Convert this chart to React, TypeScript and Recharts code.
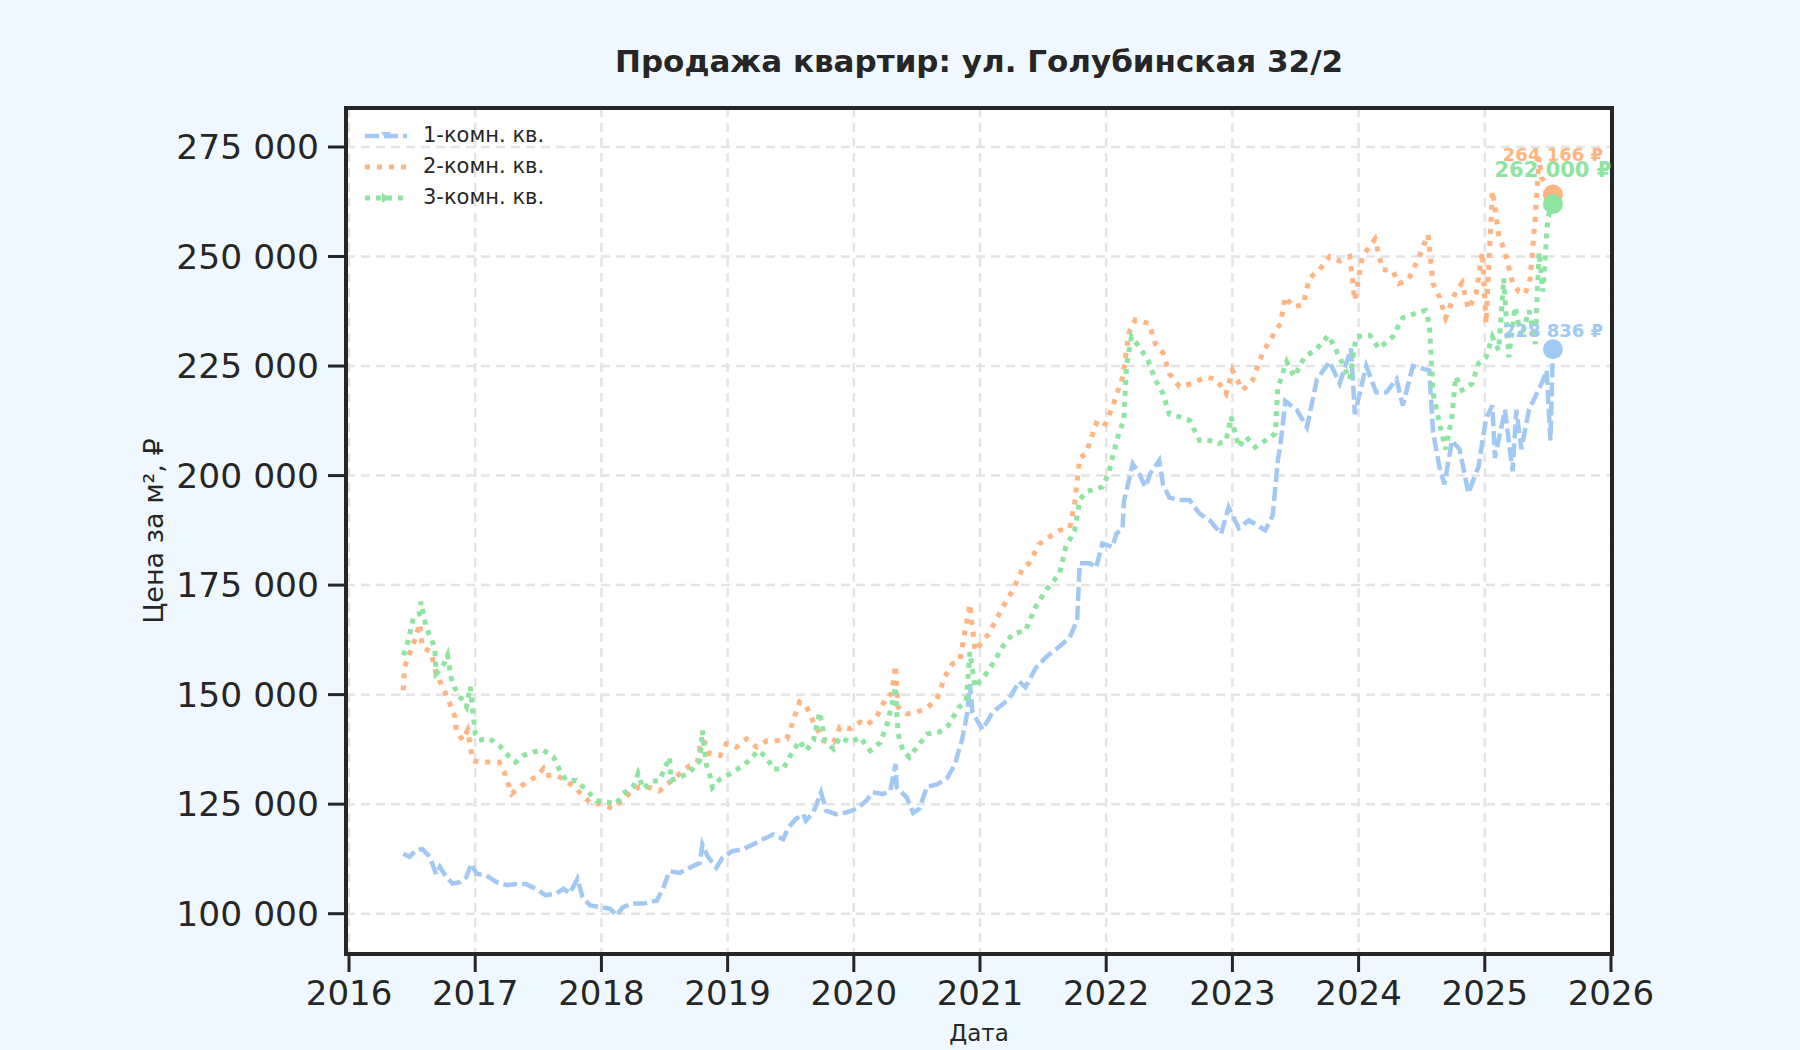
import React from "react";
import { LineChart, Line, XAxis, YAxis, CartesianGrid, ReferenceDot, ReferenceArea } from "recharts";

const BLUE = "#a1c9f4";
const ORANGE = "#ffb482";
const GREEN = "#8de5a1";
const INK = "#262626";
const FONT = "'DejaVu Sans', Verdana, sans-serif";

const title = "Продажа квартир: ул. Голубинская 32/2";
const yearTicks = [2016, 2017, 2018, 2019, 2020, 2021, 2022, 2023, 2024, 2025, 2026];
// цена за м², тыс. ₽
const priceTicks = [100, 125, 150, 175, 200, 225, 250, 275];
const xDomain = [2015.976, 2026.008];
const yDomain = [90.8, 283.9];

const room1Dates = [
  2016.43, 2016.48, 2016.53, 2016.58, 2016.64, 2016.69, 2016.72, 2016.77, 2016.82, 2016.88, 2016.93, 2016.97,
  2017.01, 2017.09, 2017.17, 2017.25, 2017.33, 2017.4, 2017.48, 2017.56, 2017.64, 2017.7, 2017.75, 2017.81,
  2017.85, 2017.91, 2017.99, 2018.07, 2018.12, 2018.17, 2018.25, 2018.33, 2018.44, 2018.49, 2018.54, 2018.62,
  2018.7, 2018.78, 2018.8, 2018.84, 2018.91, 2018.96, 2019.04, 2019.12, 2019.2, 2019.28, 2019.36, 2019.44,
  2019.48, 2019.54, 2019.6, 2019.62, 2019.68, 2019.74, 2019.78, 2019.86, 2019.94, 2020.02, 2020.1, 2020.15,
  2020.23, 2020.29, 2020.33, 2020.34, 2020.42, 2020.47, 2020.52, 2020.58, 2020.66, 2020.74, 2020.8, 2020.86,
  2020.9, 2020.92, 2020.94, 2021.02, 2021.1, 2021.23, 2021.31, 2021.36, 2021.44, 2021.52, 2021.63, 2021.71,
  2021.77, 2021.79, 2021.87, 2021.92, 2021.97, 2022.05, 2022.08, 2022.13, 2022.14, 2022.21, 2022.26, 2022.31,
  2022.35, 2022.42, 2022.45, 2022.5, 2022.58, 2022.66, 2022.74, 2022.82, 2022.91, 2022.97, 2023.05, 2023.13,
  2023.26, 2023.32, 2023.36, 2023.38, 2023.42, 2023.51, 2023.59, 2023.67, 2023.77, 2023.85, 2023.94, 2023.97,
  2024.06, 2024.14, 2024.22, 2024.3, 2024.35, 2024.43, 2024.56, 2024.59, 2024.64, 2024.68, 2024.74, 2024.8,
  2024.87, 2024.95, 2025.01, 2025.06, 2025.08, 2025.16, 2025.22, 2025.25, 2025.29, 2025.35, 2025.4, 2025.45,
  2025.49, 2025.52, 2025.54,
];
const room1Prices = [
  113.7, 113, 114.5, 114.8, 113, 109, 110.7, 108.4, 106.9, 107.2, 108.4, 111.4,
  109.1, 108.7, 107.2, 106.5, 106.8, 106.8, 105.7, 104.2, 104.6, 105.7, 104.6, 108,
  103.8, 101.9, 101.5, 101.1, 99.6, 101.5, 102.3, 102.3, 103, 105.9, 109.7, 109.3,
  110.5, 111.6, 115.8, 113.2, 110.5, 112.8, 114.3, 114.7, 115.8, 117, 118.1, 117,
  119.6, 121.6, 122.7, 121.2, 123.1, 127.7, 123.5, 122.7, 123.1, 123.9, 125.8, 127.7,
  127.3, 128.1, 134.2, 128.8, 126.5, 123, 124, 129, 129.5, 131, 134, 140,
  146, 152.4, 146, 142, 146, 149, 153, 151.7, 156, 158.5, 161, 163,
  167, 180, 180, 179, 184.5, 183.7, 186.7, 188, 194, 202.7, 200.5, 197.4,
  200.5, 203.5, 198, 195, 194.4, 194.4, 191.3, 189.8, 186.7, 192.8, 188, 189.8,
  187.5, 191, 203.5, 207, 217, 215, 211, 222, 226, 221, 229, 214,
  225, 219, 219, 222, 216, 225, 224, 210, 202, 198, 208, 206,
  196, 202, 213, 216, 204, 215, 201, 215, 206, 215, 218, 221,
  224, 208, 228.836,
];

const room2Dates = [
  2016.43, 2016.44, 2016.48, 2016.53, 2016.56, 2016.58, 2016.65, 2016.69, 2016.76, 2016.81, 2016.84, 2016.85,
  2016.9, 2016.94, 2016.98, 2017.03, 2017.11, 2017.19, 2017.23, 2017.26, 2017.29, 2017.35, 2017.43, 2017.48,
  2017.54, 2017.56, 2017.64, 2017.72, 2017.8, 2017.85, 2017.92, 2017.99, 2018.09, 2018.15, 2018.22, 2018.3,
  2018.38, 2018.46, 2018.54, 2018.62, 2018.7, 2018.76, 2018.79, 2018.82, 2018.86, 2018.94, 2018.99, 2019.07,
  2019.15, 2019.23, 2019.31, 2019.39, 2019.47, 2019.52, 2019.57, 2019.62, 2019.68, 2019.76, 2019.84, 2019.89,
  2019.97, 2020.05, 2020.1, 2020.18, 2020.26, 2020.3, 2020.33, 2020.35, 2020.42, 2020.5, 2020.58, 2020.66,
  2020.72, 2020.78, 2020.84, 2020.92, 2020.96, 2021.07, 2021.18, 2021.26, 2021.34, 2021.39, 2021.47, 2021.55,
  2021.63, 2021.71, 2021.75, 2021.79, 2021.84, 2021.92, 2021.98, 2022.05, 2022.13, 2022.18, 2022.23, 2022.34,
  2022.39, 2022.45, 2022.5, 2022.58, 2022.68, 2022.79, 2022.87, 2022.95, 2023.0, 2023.08, 2023.16, 2023.24,
  2023.3, 2023.38, 2023.42, 2023.48, 2023.56, 2023.61, 2023.69, 2023.77, 2023.85, 2023.93, 2023.97, 2024.03,
  2024.13, 2024.19, 2024.27, 2024.32, 2024.4, 2024.48, 2024.55, 2024.59, 2024.64, 2024.69, 2024.77, 2024.82,
  2024.87, 2024.93, 2024.98, 2025.01, 2025.06, 2025.11, 2025.16, 2025.22, 2025.27, 2025.32, 2025.36, 2025.4,
  2025.43, 2025.45, 2025.54,
];
const room2Prices = [
  151, 156.3, 159.4, 163.2, 166.2, 160.9, 159.7, 154.8, 150.6, 147.2, 144.9, 141.9,
  139.6, 141.9, 135, 134.6, 134.6, 134.6, 132.3, 129.7, 127.4, 128.9, 130.4, 131.2,
  133.1, 131.6, 131.6, 130.4, 128.5, 127, 125.1, 125.1, 124, 125.5, 127.4, 129,
  128.8, 128, 130, 131.9, 133.8, 134.6, 139.5, 139.1, 136.5, 136.1, 138.8, 138,
  139.9, 138, 139.5, 139.5, 139.9, 144.1, 148.3, 147.6, 143.7, 139.5, 139.1, 142.6,
  142.2, 143.7, 143, 144.9, 149.5, 150.2, 156.7, 147.2, 145.6, 146, 147, 149,
  154, 157, 157.8, 170.7, 160, 163.9, 170, 173.8, 179, 180, 184.4, 186,
  187.5, 188, 193.6, 204, 205, 211.9, 211, 215.7, 222.5, 232.5, 235.5, 234.7,
  230, 228, 223.3, 220.3, 221, 222.5, 222, 218.7, 224, 219.5, 221.8, 228,
  231, 234.7, 240.8, 238.5, 239, 245, 247, 250, 249, 250, 240, 250,
  254, 247, 246.8, 243.8, 245, 250, 255, 243.8, 240.8, 236, 242, 244,
  238, 241.5, 251, 234.7, 265, 255, 251, 244, 242, 241.5, 245, 259,
  272.6, 268, 264.166,
];

const room3Dates = [
  2016.43, 2016.47, 2016.51, 2016.56, 2016.57, 2016.61, 2016.65, 2016.68, 2016.69, 2016.74, 2016.78, 2016.81,
  2016.84, 2016.88, 2016.93, 2016.96, 2016.98, 2017.0, 2017.03, 2017.11, 2017.19, 2017.27, 2017.32, 2017.38,
  2017.46, 2017.54, 2017.62, 2017.67, 2017.72, 2017.8, 2017.88, 2017.96, 2018.04, 2018.12, 2018.17, 2018.25,
  2018.29, 2018.33, 2018.4, 2018.46, 2018.54, 2018.55, 2018.62, 2018.7, 2018.78, 2018.8, 2018.83, 2018.86,
  2018.88, 2018.94, 2019.02, 2019.1, 2019.17, 2019.24, 2019.31, 2019.36, 2019.44, 2019.49, 2019.57, 2019.62,
  2019.68, 2019.73, 2019.77, 2019.84, 2019.89, 2019.97, 2020.05, 2020.13, 2020.21, 2020.26, 2020.31, 2020.33,
  2020.35, 2020.39, 2020.44, 2020.5, 2020.58, 2020.68, 2020.75, 2020.83, 2020.89, 2020.92, 2020.96, 2021.07,
  2021.18, 2021.26, 2021.36, 2021.44, 2021.52, 2021.63, 2021.68, 2021.75, 2021.79, 2021.84, 2021.97, 2022.02,
  2022.05, 2022.1, 2022.14, 2022.16, 2022.2, 2022.26, 2022.33, 2022.39, 2022.45, 2022.5, 2022.58, 2022.66,
  2022.74, 2022.82, 2022.89, 2022.95, 2022.99, 2023.05, 2023.11, 2023.18, 2023.26, 2023.34, 2023.36, 2023.43,
  2023.49, 2023.57, 2023.67, 2023.76, 2023.85, 2023.93, 2023.98, 2024.09, 2024.16, 2024.27, 2024.35, 2024.45,
  2024.53, 2024.56, 2024.59, 2024.64, 2024.69, 2024.74, 2024.77, 2024.82, 2024.9, 2024.95, 2025.01, 2025.06,
  2025.11, 2025.15, 2025.19, 2025.24, 2025.29, 2025.35, 2025.4, 2025.43, 2025.46, 2025.5, 2025.54,
];
const room3Prices = [
  159, 162.4, 167.7, 168.5, 171.2, 165.4, 162.8, 160.5, 154.8, 156.3, 159, 153.7,
  151.4, 149.5, 147.2, 151.8, 146.4, 141.1, 139.6, 140, 138.4, 135.8, 134.6, 136.1,
  136.9, 137.3, 135.8, 132.7, 130.4, 130.4, 128.2, 125.8, 125.5, 125.1, 127.4, 128.9,
  132, 128.5, 130.2, 130.4, 135.7, 130.4, 131.1, 132.3, 134.9, 141.8, 134.2, 131.5,
  128.8, 130.7, 131.9, 133.4, 134.9, 137.2, 135.7, 133, 133, 135.7, 139.5, 137.2,
  139.5, 146, 139.5, 137.6, 140.3, 139.1, 140.3, 137.2, 139.1, 143, 148.7, 151.8,
  141, 137.2, 135.7, 138, 141, 141.5, 143, 147, 148.6, 159.7, 151.7, 155.5,
  161, 163.9, 164.6, 170, 173.8, 177.6, 183.7, 187.5, 194.4, 196.3, 197.4, 200.5,
  204.3, 209.6, 212.7, 224.8, 231.7, 229.4, 226.4, 221.8, 218.7, 214, 213.4, 212.6,
  208, 208, 207.3, 208, 213.4, 206.5, 208.8, 206.5, 208, 209.6, 220, 226,
  222.6, 227, 229, 232, 227, 222, 231.7, 232, 229, 231.7, 236, 237,
  237.7, 234.7, 218.8, 212, 206, 213.5, 222.6, 219.5, 221, 225.6, 227, 231.7,
  228.6, 245, 227, 238.5, 231.7, 237.7, 230, 251, 242, 259, 262,
];

const series = [
  { name: "1-комн. кв.", color: BLUE, dash: "14 5", width: 4.5, marker: "down", dates: room1Dates, prices: room1Prices, labelSize: 18, labelOffset: 2 },
  { name: "2-комн. кв.", color: ORANGE, dash: "5 7", width: 5, marker: "none", dates: room2Dates, prices: room2Prices, labelSize: 18, labelOffset: 23 },
  { name: "3-комн. кв.", color: GREEN, dash: "5 6", width: 5, marker: "right", dates: room3Dates, prices: room3Prices, labelSize: 21, labelOffset: 17 },
];

const fmt = (n: number) => String(Math.round(n)).replace(/\B(?=(\d{3})+(?!\d))/g, " ");

const axisLine = { stroke: INK, strokeWidth: 4 };

function LegendSample({ color, dash, width, marker }: any) {
  return (
    <svg width={42} height={14} style={{ display: "block" }}>
      <line x1={0} y1={7} x2={42} y2={7} stroke={color} strokeWidth={width} strokeDasharray={dash} />
      {marker === "down" && <polygon points="16,3 26,3 21,10" fill={color} />}
      {marker === "right" && <polygon points="17,2 17,12 25,7" fill={color} />}
    </svg>
  );
}

export default function App() {
  return (
    <div
      style={{
        position: "absolute",
        left: 0,
        top: 0,
        width: 1800,
        height: 1050,
        background: "#f0f8ff",
        fontFamily: FONT,
        color: INK,
      }}
    >
      <div
        style={{
          position: "absolute",
          left: 346,
          width: 1266,
          top: 41,
          textAlign: "center",
          fontSize: 31,
          fontWeight: 700,
          lineHeight: "40px",
        }}
      >
        {title}
      </div>

      <LineChart
        width={1800}
        height={1050}
        margin={{ top: 108, right: 188, bottom: 36, left: 146 }}
        style={{ fontFamily: FONT }}
      >
        <CartesianGrid stroke="#e4e4e4" strokeWidth={2.5} strokeDasharray="9 6" fill="#ffffff" />
        <XAxis
          dataKey="t"
          type="number"
          domain={xDomain}
          allowDataOverflow
          ticks={yearTicks}
          interval={0}
          height={60}
          tickSize={18}
          tickMargin={9}
          axisLine={axisLine}
          tickLine={{ stroke: INK, strokeWidth: 3 }}
          tick={{ fill: INK, fontSize: 34 }}
          label={{
            content: ({ viewBox }: any) => (
              <text
                x={viewBox.x + viewBox.width / 2}
                y={1033}
                textAnchor="middle"
                dominantBaseline="central"
                fontSize={23}
                fill={INK}
              >
                Дата
              </text>
            ),
          }}
        />
        <YAxis
          type="number"
          domain={yDomain}
          allowDataOverflow
          ticks={priceTicks}
          interval={0}
          width={200}
          tickSize={18}
          tickMargin={9}
          axisLine={axisLine}
          tickLine={{ stroke: INK, strokeWidth: 3 }}
          tick={{ fill: INK, fontSize: 34.5 }}
          tickFormatter={(v: number) => fmt(v * 1000)}
          label={{
            content: ({ viewBox }: any) => {
              const cy = viewBox.y + viewBox.height / 2;
              return (
                <text
                  x={153}
                  y={cy}
                  transform={`rotate(-90 153 ${cy})`}
                  textAnchor="middle"
                  dominantBaseline="central"
                  fontSize={27}
                  fill={INK}
                >
                  Цена за м², ₽
                </text>
              );
            },
          }}
        />

        {series.map((s) => (
          <Line
            key={s.name}
            name={s.name}
            data={s.dates.map((t, i) => ({ t, v: s.prices[i] }))}
            dataKey="v"
            type="linear"
            stroke={s.color}
            strokeWidth={s.width}
            strokeDasharray={s.dash}
            dot={false}
            activeDot={false}
            isAnimationActive={false}
          />
        ))}

        {/* рамка области построения */}
        <ReferenceArea
          x1={xDomain[0]}
          x2={xDomain[1]}
          y1={yDomain[0]}
          y2={yDomain[1]}
          fill="none"
          stroke={INK}
          strokeWidth={4}
          ifOverflow="visible"
        />

        {series.map((s) => {
          const last = s.prices.length - 1;
          return (
            <ReferenceDot
              key={s.name + "-end"}
              x={s.dates[last]}
              y={s.prices[last]}
              r={10}
              fill={s.color}
              stroke="none"
              label={{
                value: `${fmt(s.prices[last] * 1000)} ₽`,
                position: "top",
                offset: s.labelOffset,
                fill: s.color,
                fontSize: s.labelSize,
                fontWeight: 700,
              }}
            />
          );
        })}
      </LineChart>

      <div style={{ position: "absolute", left: 365, top: 120 }}>
        {series.map((s) => (
          <div key={s.name} style={{ display: "flex", alignItems: "center", height: 31 }}>
            <LegendSample {...s} />
            <span style={{ marginLeft: 16, fontSize: 21, lineHeight: "31px" }}>{s.name}</span>
          </div>
        ))}
      </div>
    </div>
  );
}
